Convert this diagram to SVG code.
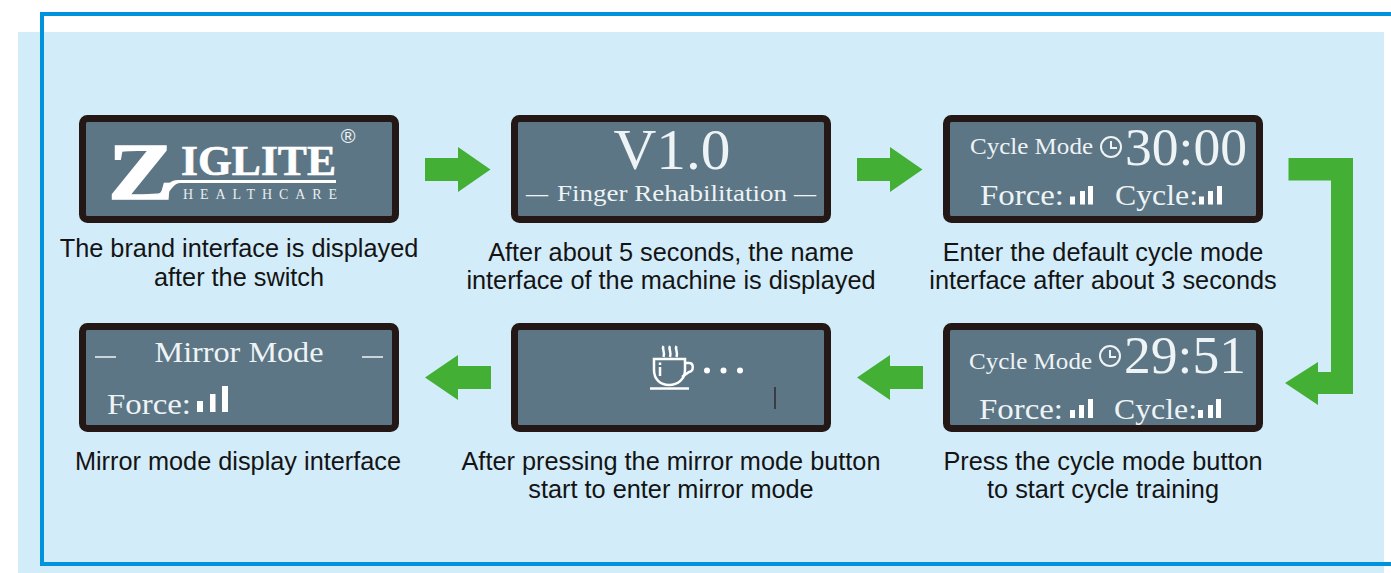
<svg xmlns="http://www.w3.org/2000/svg" width="1391" height="573" viewBox="0 0 1391 573">
<style>
.frame{fill:#5c7685;stroke:#231815;stroke-width:7}
.cap{font:25.300px "Liberation Sans",Arial,sans-serif;fill:#141414;text-anchor:middle}
.s{font-family:"Liberation Serif","Times New Roman",serif;fill:#eef3f5}
.arrow{fill:#43b035}
.w{fill:#fff}
.cup{fill:none;stroke:#fff;stroke-width:2.500}
</style>
<rect width="1391" height="573" fill="#fff"/>
<rect x="18" y="32" width="1366" height="541" fill="#d3ecfa"/>
<path d="M1391 14H42V564H1391" fill="none" stroke="#0093dd" stroke-width="4"/>

<g id="connectors">
<path class="arrow" d="M425 158H458V147L490.500 169.500L458 192V181H425Z"/>
<path class="arrow" d="M857 158H890V147L922.500 169.500L890 192V181H857Z"/>
<path class="arrow" d="M1288.500 158H1353V394H1318V405L1285 383L1318 362V372H1331V180.500H1288.500Z"/>
<path class="arrow" d="M923 366H890V355L857 377.500L890 400V389H923Z"/>
<path class="arrow" d="M491 366H458V355L425 377.500L458 400V389H491Z"/>
</g>

<g id="node-brand">
<rect class="frame" x="82.500" y="118.500" width="313" height="101" rx="5"/>
<text x="348" y="143" font-family="Liberation Sans,sans-serif" font-size="20" fill="#eef3f5" text-anchor="middle">®</text>
<text x="108" y="199" font-family="Liberation Serif,serif" font-weight="bold" font-size="81" fill="#fff" stroke="#fff" stroke-width="1.500" textLength="66" lengthAdjust="spacingAndGlyphs">Z</text>
<text x="181" y="175" font-family="Liberation Serif,serif" font-weight="bold" font-size="42" fill="#fff" stroke="#fff" stroke-width=".6" textLength="155" lengthAdjust="spacingAndGlyphs">IGLITE</text>
<path class="w" d="M148 199C162 199 164 180 178 180H336V183H180C171 183 170 199 154 199Z"/>
<text x="183" y="199" font-family="Liberation Serif,serif" font-size="14" fill="#e8edf0" textLength="154">HEALTHCARE</text>
<text class="cap" x="239" y="257">The brand interface is displayed</text>
<text class="cap" x="239" y="286">after the switch</text>
</g>

<g id="node-name">
<rect class="frame" x="514.500" y="118.500" width="313" height="101" rx="5"/>
<text class="s" x="672" y="169" font-size="57" text-anchor="middle" textLength="117" lengthAdjust="spacingAndGlyphs">V1.0</text>
<text class="s" x="526" y="201" font-size="24" textLength="22" lengthAdjust="spacingAndGlyphs">—</text>
<text class="s" x="557" y="201" font-size="24" textLength="230" lengthAdjust="spacingAndGlyphs">Finger Rehabilitation</text>
<text class="s" x="794" y="201" font-size="24" textLength="22" lengthAdjust="spacingAndGlyphs">—</text>
<text class="cap" x="671" y="260.500">After about 5 seconds, the name</text>
<text class="cap" x="671" y="288.500">interface of the machine is displayed</text>
</g>

<g id="node-cycle">
<rect class="frame" x="946.500" y="118.500" width="313" height="101" rx="5"/>
<text class="s" x="970" y="154" font-size="23" textLength="123" lengthAdjust="spacingAndGlyphs">Cycle Mode</text>
<circle cx="1111" cy="147" r="10" fill="none" stroke="#eef3f5" stroke-width="2"/>
<path d="M1111 141V148H1117" fill="none" stroke="#eef3f5" stroke-width="2"/>
<text class="s" x="1125" y="165" font-size="52" fill="#fff" textLength="122" lengthAdjust="spacingAndGlyphs">30:00</text>
<text class="s" x="980" y="205" font-size="30" textLength="84" lengthAdjust="spacingAndGlyphs">Force:</text>
<path class="w" d="M1070 196.500h5v8h-5zM1080 191h5v13.500h-5zM1088 186h5v18.500h-5z"/>
<text class="s" x="1115" y="205" font-size="30" textLength="83" lengthAdjust="spacingAndGlyphs">Cycle:</text>
<path class="w" d="M1199 196.500h5v8h-5zM1208 191h5v13.500h-5zM1217 186h5v18.500h-5z"/>
<text class="cap" x="1103" y="260.500">Enter the default cycle mode</text>
<text class="cap" x="1103" y="288.500">interface after about 3 seconds</text>
</g>

<g id="node-training">
<rect class="frame" x="946.500" y="326.500" width="313" height="102" rx="5"/>
<text class="s" x="969" y="369" font-size="23" textLength="123" lengthAdjust="spacingAndGlyphs">Cycle Mode</text>
<circle cx="1110" cy="356" r="10" fill="none" stroke="#eef3f5" stroke-width="2"/>
<path d="M1110 350V357H1116" fill="none" stroke="#eef3f5" stroke-width="2"/>
<text class="s" x="1124" y="373" font-size="52" fill="#fff" textLength="122" lengthAdjust="spacingAndGlyphs">29:51</text>
<text class="s" x="979" y="419" font-size="30" textLength="84" lengthAdjust="spacingAndGlyphs">Force:</text>
<path class="w" d="M1070 410h5v8h-5zM1079 405h5v13h-5zM1088 399h5v19h-5z"/>
<text class="s" x="1114" y="419" font-size="30" textLength="83" lengthAdjust="spacingAndGlyphs">Cycle:</text>
<path class="w" d="M1198 410h5v8h-5zM1208 405h5v13h-5zM1216 399h5v19h-5z"/>
<text class="cap" x="1103" y="470">Press the cycle mode button</text>
<text class="cap" x="1103" y="498">to start cycle training</text>
</g>

<g id="node-wait">
<rect class="frame" x="514.500" y="326.500" width="313" height="102" rx="5"/>
<path class="cup" d="M654 359H685V370C685 379 678 385 669 385C660 385 654 379 654 370Z"/>
<path class="cup" d="M685 363H689C694 363 694 371 689 372L682 377"/>
<path class="cup" d="M650 388.500H689"/>
<path class="cup" stroke-width="2" d="M663.500 346c-2 3 2 6 0 11M670 346c-2 3 2 6 0 11M676.500 346c-2 3 2 6 0 11"/>
<path class="cup" d="M660 367V376M660 362.500V365"/>
<circle class="w" cx="707" cy="370.500" r="3"/>
<circle class="w" cx="723.500" cy="370.500" r="3"/>
<circle class="w" cx="740" cy="370.500" r="3"/>
<path d="M775 387V409" stroke="#231815" stroke-width="1.200"/>
<text class="cap" x="671" y="470">After pressing the mirror mode button</text>
<text class="cap" x="671" y="498">start to enter mirror mode</text>
</g>

<g id="node-mirror">
<rect class="frame" x="82.500" y="326.500" width="313" height="102" rx="5"/>
<path d="M95 357H116M362 357H383" stroke="#eef3f5" stroke-width="1.500"/>
<text class="s" x="239" y="362" font-size="30" text-anchor="middle" textLength="169" lengthAdjust="spacingAndGlyphs">Mirror Mode</text>
<text class="s" x="107" y="414" font-size="30" textLength="84" lengthAdjust="spacingAndGlyphs">Force:</text>
<path class="w" d="M197 401h6v11h-6zM210 394h5.500v18h-5.500zM222 386h6v26h-6z"/>
<text class="cap" x="238" y="470">Mirror mode display interface</text>
</g>
</svg>
